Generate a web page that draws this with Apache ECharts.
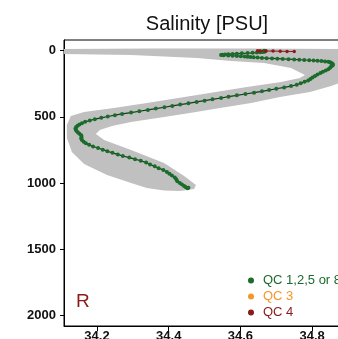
<!DOCTYPE html>
<html>
<head>
<meta charset="utf-8">
<script src="https://cdn.jsdelivr.net/npm/echarts@6/dist/echarts.min.js"></script>
<style>
  html, body { margin: 0; padding: 0; background: #ffffff; }
  #chart { width: 338px; height: 339px; }
</style>
</head>
<body>
<div id="chart"></div>
<script>
// Axis ticks
const depthTicks = [0, 500, 1000, 1500, 2000];
const salinityTicks = [34.2, 34.4, 34.6, 34.8];

// Envelope of neighbouring profiles (grey cloud), traced as a closed outline
const cloudSal = [
  34.108, 34.348, 34.627, 34.900, 34.900, 34.853, 34.794, 34.710, 34.630, 34.543,
  34.459, 34.387, 34.295, 34.242, 34.208, 34.197, 34.220, 34.295, 34.387, 34.443,
  34.476, 34.471, 34.432, 34.387, 34.339, 34.295, 34.228, 34.164, 34.130, 34.116,
  34.116, 34.127, 34.164, 34.247, 34.339, 34.479, 34.618, 34.713, 34.766, 34.780,
  34.741, 34.666, 34.574, 34.479, 34.295, 34.108
];
const cloudDepth = [
  -12, -16, -16, -12, 222, 267, 313, 350, 396, 433,
  471, 501, 539, 569, 599, 630, 675, 750, 849, 947,
  1015, 1045, 1060, 1056, 1037, 1000, 939, 856, 766, 660,
  562, 494, 464, 433, 396, 335, 275, 237, 207, 184,
  131, 94, 78, 56, 33, 26
];

// Profile samples flagged QC 1,2,5 or 8
const goodSal = [
  34.666, 34.670, 34.668, 34.664, 34.667, 34.661, 34.655, 34.646, 34.634, 34.620,
  34.604, 34.590, 34.578, 34.566, 34.557, 34.549, 34.546, 34.553, 34.566, 34.578,
  34.590, 34.601, 34.612, 34.620, 34.628, 34.637, 34.648, 34.660, 34.673, 34.688,
  34.703, 34.718, 34.734, 34.750, 34.764, 34.778, 34.792, 34.804, 34.815, 34.826,
  34.836, 34.845, 34.850, 34.852, 34.856, 34.858, 34.857, 34.853, 34.850, 34.845,
  34.838, 34.830, 34.823, 34.815, 34.808, 34.801, 34.795, 34.789, 34.779, 34.768,
  34.757, 34.741, 34.722, 34.700, 34.680, 34.660, 34.638, 34.614, 34.590, 34.567,
  34.546, 34.522, 34.500, 34.478, 34.455, 34.432, 34.410, 34.388, 34.364, 34.342,
  34.318, 34.295, 34.270, 34.250, 34.230, 34.212, 34.194, 34.180, 34.167, 34.158,
  34.151, 34.146, 34.142, 34.140, 34.141, 34.143, 34.147, 34.151, 34.156, 34.157,
  34.156, 34.158, 34.163, 34.169, 34.178, 34.189, 34.203, 34.216, 34.229, 34.243,
  34.258, 34.272, 34.290, 34.306, 34.322, 34.337, 34.348, 34.361, 34.372, 34.385,
  34.395, 34.402, 34.409, 34.417, 34.421, 34.424, 34.431, 34.437, 34.443, 34.447,
  34.455, 34.452
];
const goodDepth = [
  1, 3, 5, 7, 9, 11, 13, 15, 17, 19,
  21, 23, 25, 27, 29, 31, 33, 35, 37, 39,
  41, 43, 45, 47, 49, 51, 53, 55, 57, 59,
  61, 63, 65, 67, 69, 71, 73, 75, 77, 79,
  82, 85, 88, 92, 98, 105, 113, 121, 130, 140,
  150, 160, 170, 181, 192, 203, 214, 225, 236, 247,
  258, 268, 278, 288, 298, 308, 318, 328, 338, 348,
  358, 368, 378, 388, 398, 408, 418, 428, 438, 448,
  458, 468, 478, 488, 498, 508, 518, 528, 538, 548,
  558, 568, 578, 588, 598, 608, 618, 628, 640, 652,
  664, 676, 688, 700, 712, 724, 736, 748, 760, 772,
  784, 796, 808, 820, 832, 846, 860, 874, 888, 902,
  916, 930, 944, 958, 972, 986, 1000, 1012, 1022, 1030,
  1036, 1040
];

// Samples flagged QC 3 (none in this profile)
const probSal = [];
const probDepth = [];

// Samples flagged QC 4
const badSal = [34.648, 34.655, 34.671, 34.691, 34.711, 34.730, 34.750];
const badDepth = [1, 2, 3, 4, 5, 6, 7];

const FONT = 'Liberation Sans, Arial, Helvetica, sans-serif';
const GREEN = '#1b6b2b';
const ORANGE = '#f5962a';
const DARKRED = '#8b1a1a';

const chart = echarts.init(document.getElementById('chart'), null, { renderer: 'canvas' });

const pairs = (xs, ys) => xs.map((x, i) => [x, ys[i]]);

chart.setOption({
  animation: false,
  backgroundColor: '#ffffff',
  grid: {
    left: 64, top: 40, right: -10, bottom: 13,
    show: true, borderColor: '#000000', borderWidth: 1,
    containLabel: false, outerBoundsMode: 'none'
  },
  xAxis: {
    type: 'value', min: 34.108, max: 34.9,
    axisLine: { show: true, onZero: false, lineStyle: { color: '#000', width: 1 } },
    axisTick: { show: true, length: 5, customValues: salinityTicks, lineStyle: { color: '#000' } },
    axisLabel: {
      customValues: salinityTicks, margin: 4,
      fontFamily: FONT, fontSize: 13, fontWeight: 'bold', color: '#111',
      formatter: v => Number(v).toFixed(1)
    },
    splitLine: { show: false }
  },
  yAxis: {
    type: 'value', inverse: true, min: -80, max: 2080,
    axisLine: { show: true, onZero: false, lineStyle: { color: '#000', width: 1 } },
    axisTick: { show: true, length: 4, customValues: depthTicks, lineStyle: { color: '#000' } },
    axisLabel: {
      customValues: depthTicks, margin: 8,
      fontFamily: FONT, fontSize: 13, fontWeight: 'bold', color: '#111',
      formatter: v => String(Math.round(v))
    },
    splitLine: { show: false }
  },
  legend: {
    orient: 'vertical', left: 243, top: 269,
    icon: 'circle', itemWidth: 14, itemHeight: 6, itemGap: 3,
    selectedMode: false,
    textStyle: { fontFamily: FONT, fontSize: 13 },
    data: [
      { name: 'QC 1,2,5 or 8', textStyle: { color: GREEN } },
      { name: 'QC 3', textStyle: { color: ORANGE } },
      { name: 'QC 4', textStyle: { color: DARKRED } }
    ]
  },
  graphic: [
    {
      type: 'text', x: 207, y: 24.5, silent: true,
      style: { text: 'Salinity [PSU]', font: '20px ' + FONT, fill: '#111', textAlign: 'center', textVerticalAlign: 'middle' }
    },
    {
      type: 'text', x: 76, y: 302, silent: true,
      style: { text: 'R', font: '19px ' + FONT, fill: DARKRED, textAlign: 'left', textVerticalAlign: 'middle' }
    }
  ],
  series: [
    {
      type: 'custom', name: 'cloud', silent: true, z: 1,
      data: pairs(cloudSal, cloudDepth),
      renderItem: (params, api) => {
        if (params.dataIndex !== 0) return null;
        const pts = cloudSal.map((s, i) => api.coord([s, cloudDepth[i]]));
        return { type: 'polygon', shape: { points: pts }, style: { fill: '#c0c0c0' } };
      }
    },
    {
      type: 'line', name: 'QC 1,2,5 or 8', z: 3,
      data: pairs(goodSal, goodDepth),
      symbol: 'circle', symbolSize: 4, showSymbol: true, showAllSymbol: true,
      itemStyle: { color: GREEN },
      lineStyle: { color: '#15391c', width: 1.2 }
    },
    {
      type: 'line', name: 'QC 3', z: 4,
      data: pairs(probSal, probDepth),
      symbol: 'circle', symbolSize: 3.5,
      itemStyle: { color: ORANGE }, lineStyle: { color: ORANGE, width: 1 }
    },
    {
      type: 'line', name: 'QC 4', z: 5,
      data: pairs(badSal, badDepth),
      symbol: 'circle', symbolSize: 3.5, showAllSymbol: true,
      itemStyle: { color: DARKRED }, lineStyle: { color: DARKRED, width: 1 }
    }
  ]
});
</script>
</body>
</html>
